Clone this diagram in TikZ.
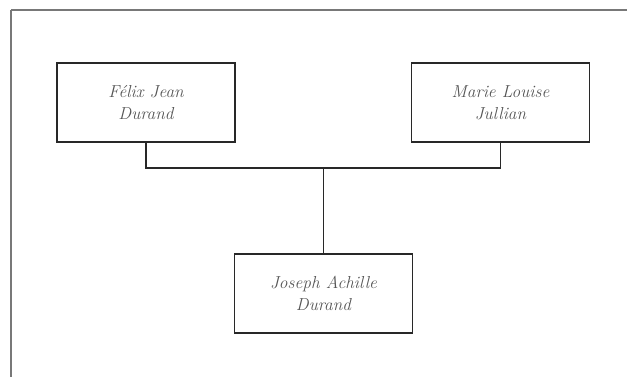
\documentclass[tikz,border=0pt]{standalone}
\usepackage{fontspec}

\tikzset{every picture/.style={line width=0.75pt}}
\definecolor{framegray}{RGB}{120,120,120}
\definecolor{textgray}{RGB}{85,85,85}
\tikzset{
  person/.style={draw={rgb, 255:red, 40; green, 40; blue, 40}, line width=1pt, minimum width=133.5pt, minimum height=59.25pt, align=center, inner sep=0.75pt, text=textgray, font=\fontsize{13}{16.5}\selectfont\itshape},
  link/.style={draw={rgb, 255:red, 40; green, 40; blue, 40}, line width=1pt}
}

\begin{document}
\begin{tikzpicture}[x=0.75pt,y=0.75pt,yscale=-1,xscale=1]
\useasboundingbox (0,0) rectangle (627,376);

%Shape: Rectangle [frame]
\draw [color=framegray, line width=0.9pt] (11,10) -- (640,10) (11,10) -- (11,390);

% Text Node
\node [person] (felix) at (146,102.5) {Félix Jean\\Durand};
% Text Node
\node [person] (marie) at (500.5,102.5) {Marie Louise\\Jullian};
% Text Node
\node [person] (joseph) at (323.5,293.5) {Joseph Achille\\Durand};

\coordinate (union) at (323.5,168);

%Straight Lines
\draw [link] (felix.south) |- (union) -| (marie.south);
%Straight Lines
\draw [link] (union) -- (joseph.north);
\end{tikzpicture}
\end{document}
